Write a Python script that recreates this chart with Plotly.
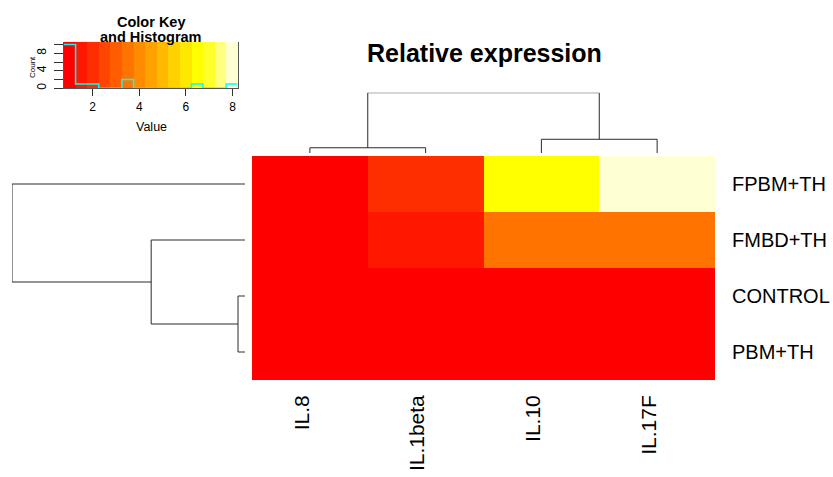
import colorsys
import numpy as np
import plotly.graph_objects as go

# ---- data -------------------------------------------------------------
rows = ["FPBM+TH", "FMBD+TH", "CONTROL", "PBM+TH"]
cols = ["IL.8", "IL.1beta", "IL.10", "IL.17F"]
fpbm_th = [1.20, 1.80, 6.55, 8.22]
fmbd_th = [1.20, 1.40, 3.45, 3.70]
control = [1.00, 1.00, 1.00, 1.00]
pbm_th = [0.90, 0.77, 1.10, 0.95]
key_ticks = [2, 4, 6, 8]
count_ticks = [0, 2, 4, 6, 8, 10]
count_labels = ["0", "", "4", "", "8", ""]

Z = np.array([fpbm_th, fmbd_th, control, pbm_th])
W, H = 833, 477
FONT = "Liberation Sans, Arial, Helvetica, sans-serif"


# ---- R-style heat.colors(15) palette ------------------------------------
def heat_colors(n):
    j = n // 4
    i = n - j
    out = []
    for h in np.linspace(0, 1 / 6, i):
        out.append(colorsys.hsv_to_rgb(h, 1, 1))
    for s in np.linspace(1 - 1 / (2 * j), 1 / (2 * j), j):
        out.append(colorsys.hsv_to_rgb(1 / 6, s, 1))
    return ["#%02X%02X%02X" % tuple(int(round(c * 255)) for c in rgb) for rgb in out]


ncol = 15
pal = heat_colors(ncol)
lo, hi = float(Z.min()), float(Z.max())
breaks = np.linspace(lo, hi, ncol + 1)
cscale = []
for k, c in enumerate(pal):
    cscale.append([k / ncol, c])
    cscale.append([(k + 1) / ncol, c])


# ---- complete-linkage clustering (euclidean) ---------------------------
def complete_linkage(mat):
    mat = np.asarray(mat)
    n = len(mat)
    d = np.sqrt(((mat[:, None, :] - mat[None, :, :]) ** 2).sum(-1))
    info = {frozenset([i]): (float(i), 0.0) for i in range(n)}
    active = list(info.keys())
    merges = []
    while len(active) > 1:
        best = None
        for a in range(len(active)):
            for b in range(a + 1, len(active)):
                A, B = active[a], active[b]
                h = max(d[p, q] for p in A for q in B)
                if best is None or h < best[0]:
                    best = (h, A, B)
        h, A, B = best
        new = A | B
        info[new] = ((info[A][0] + info[B][0]) / 2, h)
        merges.append((info[A], info[B], h))
        active = [c for c in active if c not in (A, B)] + [new]
    return merges


def dendro_path(merges):
    pos, hgt = [], []
    for (pa, ha), (pb, hb), h in merges:
        pos += [pa, pa, pb, pb, None]
        hgt += [ha, h, h, hb, None]
    return pos, hgt


row_merges = complete_linkage(Z)
col_merges = complete_linkage(Z.T)
row_top = max(m[2] for m in row_merges)
col_top = max(m[2] for m in col_merges)
rpos, rh = dendro_path(row_merges)
cpos, ch = dendro_path(col_merges)

# ---- histogram for the colour key --------------------------------------
counts, _ = np.histogram(Z.ravel(), bins=breaks)
hist_top = counts.max() * 1.065
mids = (breaks[:-1] + breaks[1:]) / 2

fig = go.Figure()

# main heatmap
fig.add_trace(go.Heatmap(
    z=Z, x=list(range(len(cols))), y=list(range(len(rows))),
    colorscale=cscale, zmin=lo, zmax=hi, showscale=False,
    xaxis="x", yaxis="y", hoverinfo="skip"))

# row dendrogram (left)
fig.add_trace(go.Scatter(
    x=rh, y=rpos, mode="lines", line=dict(color="#2a2a2a", width=1),
    xaxis="x2", yaxis="y2", hoverinfo="skip", showlegend=False))

# column dendrogram (top)
fig.add_trace(go.Scatter(
    x=cpos, y=ch, mode="lines", line=dict(color="#2a2a2a", width=1),
    xaxis="x3", yaxis="y3", hoverinfo="skip", showlegend=False))

# colour key bands
fig.add_trace(go.Heatmap(
    z=[mids], x=breaks, y=[0, hist_top],
    colorscale=cscale, zmin=lo, zmax=hi, showscale=False,
    xaxis="x4", yaxis="y4", hoverinfo="skip"))

# histogram of values over the key
fig.add_trace(go.Scatter(
    x=breaks, y=np.append(counts, counts[-1]), mode="lines",
    line=dict(color="#00FFFF", width=1.5, shape="hv"),
    xaxis="x4", yaxis="y4", hoverinfo="skip", showlegend=False))

hm_x = [252 / W, 715 / W]
hm_y = [(H - 380) / H, (H - 156) / H]
hidden = dict(visible=False, showgrid=False, zeroline=False)

fig.update_layout(
    width=W, height=H, margin=dict(l=0, r=0, t=0, b=0),
    paper_bgcolor="white", plot_bgcolor="white",
    font=dict(family=FONT, color="black"),
    showlegend=False,
    xaxis=dict(domain=hm_x, range=[-0.5, len(cols) - 0.5], anchor="y",
               tickvals=list(range(len(cols))), ticktext=cols, tickangle=-90,
               ticks="", showgrid=False, zeroline=False, showline=False,
               tickfont=dict(size=21), ticklabelstandoff=10,
               ticklabelshift=-8, automargin=False),
    yaxis=dict(domain=hm_y, range=[len(rows) - 0.5, -0.5], anchor="x",
               side="right", tickvals=list(range(len(rows))), ticktext=rows,
               ticks="", showgrid=False, zeroline=False, showline=False,
               tickfont=dict(size=20), ticklabelstandoff=16,
               automargin=False),
    xaxis2=dict(domain=[12 / W, 245 / W], range=[row_top, 0], anchor="y2", **hidden),
    yaxis2=dict(domain=hm_y, range=[len(rows) - 0.5, -0.5], anchor="x2", **hidden),
    xaxis3=dict(domain=hm_x, range=[-0.5, len(cols) - 0.5], anchor="y3", **hidden),
    yaxis3=dict(domain=[(H - 153) / H, (H - 92.7) / H], range=[0, col_top],
                anchor="x3", **hidden),
    xaxis4=dict(domain=[64 / W, 237.7 / W], range=[lo, hi], anchor="y4",
                tickvals=key_ticks, ticks="outside", ticklen=7, tickcolor="#333",
                showline=True, linecolor="#555", linewidth=1,
                showgrid=False, zeroline=False, tickfont=dict(size=12),
                automargin=False),
    yaxis4=dict(domain=[(H - 88.3) / H, (H - 41.7) / H], range=[0, hist_top],
                anchor="x4", tickvals=count_ticks, ticktext=count_labels,
                tickangle=-90, ticks="outside", ticklen=9, tickcolor="#333",
                showline=True, mirror=True, linecolor="#555", linewidth=1,
                showgrid=False, zeroline=False, tickfont=dict(size=12),
                ticklabelstandoff=3, automargin=False),
    annotations=[
        dict(text="<b>Relative expression</b>", x=484 / W, y=(H - 53) / H,
             xref="paper", yref="paper", showarrow=False,
             font=dict(size=25), xanchor="center", yanchor="middle"),
        dict(text="<b>Color Key</b>", x=151 / W, y=(H - 22) / H,
             xref="paper", yref="paper", showarrow=False,
             font=dict(size=14.5), xanchor="center", yanchor="middle"),
        dict(text="<b>and Histogram</b>", x=151 / W, y=(H - 37) / H,
             xref="paper", yref="paper", showarrow=False,
             font=dict(size=14.5), xanchor="center", yanchor="middle"),
        dict(text="Value", x=151 / W, y=(H - 127) / H,
             xref="paper", yref="paper", showarrow=False,
             font=dict(size=12.5), xanchor="center", yanchor="middle"),
        dict(text="Count", x=32 / W, y=(H - 67) / H, textangle=-90,
             xref="paper", yref="paper", showarrow=False,
             font=dict(size=8), xanchor="center", yanchor="middle"),
    ],
)

fig.write_html("out.html")
